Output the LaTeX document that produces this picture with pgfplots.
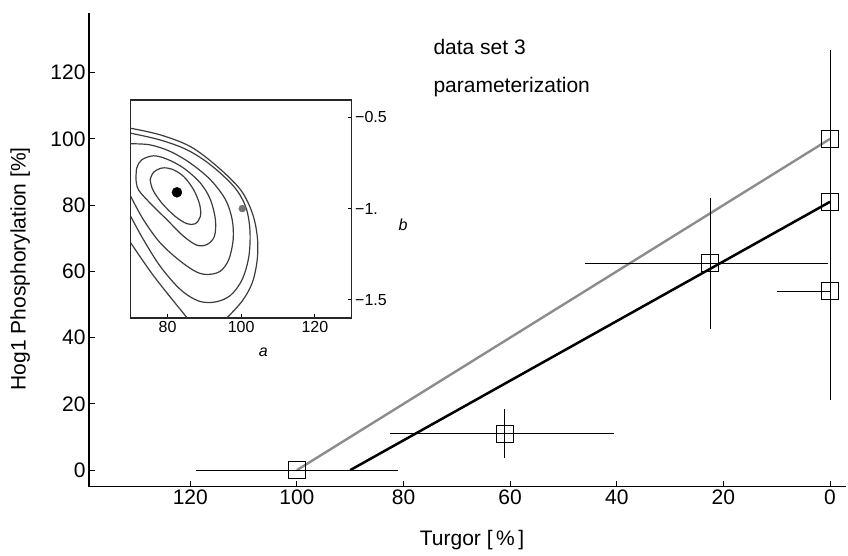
\documentclass[border=0pt]{standalone}
\usepackage{fontspec}
\setmainfont{Liberation Sans}
\usepackage{pgfplots}
\pgfplotsset{compat=1.18}
\definecolor{linegray}{RGB}{140,140,140}
\definecolor{contourgray}{RGB}{60,60,60}
\begin{document}
\begin{tikzpicture}
\useasboundingbox (0,0) rectangle (848bp,556bp);
% main plot
\begin{axis}[
    at={(89bp,69.3bp)}, anchor=south west,
    scale only axis, width=757bp, height=473.7bp,
    x dir=reverse,
    xmin=-3, xmax=139, ymin=-5, ymax=138,
    axis x line*=bottom, axis y line*=left,
    axis line style={line width=1.2bp},
    xtick={0,20,...,120}, ytick={0,20,...,120},
    tick align=inside, major tick length=6bp,
    tick style={line width=1bp, black},
    /pgf/number format/assume math mode=true,
    tick label style={font=\fontsize{21bp}{25bp}\selectfont},
    label style={font=\fontsize{21bp}{25bp}\selectfont},
    xlabel={Turgor [\,\%\,]},
    ylabel={Hog1 Phosphorylation [\%]},
    xlabel style={at={(axis description cs:0.506,-0.1125)}, anchor=center},
    ylabel style={at={(axis description cs:-0.091,0.46)}, anchor=center, rotate=0},
    clip=false,
]
% fitted lines
\addplot[linegray, line width=2.4bp] coordinates {(100,0) (0,100)};
\addplot[black, line width=2.5bp] coordinates {(90,0) (0,81)};
% horizontal error bars
\addplot[draw=none, mark=none,
    error bars/.cd, x dir=both, x explicit,
    error bar style={draw=black, line width=1bp},
    error mark options={draw=black, mark size=2.5bp, line width=1bp}]
  table[x=x, y=y, x error plus=ep, x error minus=em] {
x     y     ep    em
100   0     18.5  18.5
61    11    21    20
22.5  62.5  23    21.6
0     54    9.5   0
};
% vertical error bars
\addplot[draw=none, mark=none,
    error bars/.cd, y dir=both, y explicit,
    error bar style={draw=black, line width=1bp},
    error mark options={draw=black, mark size=2.5bp, line width=1bp}]
  table[x=x, y=y, y error plus=ep, y error minus=em] {
x     y     ep    em
61    11    6.7   6.5
22.5  62.5  19    19
0     100   26    26
0     81    10    10
0     54    32    32
};
% data squares
\addplot[black, only marks, mark=square, mark size=8.5bp,
    mark options={line width=1.3bp}] coordinates {
    (100,0) (61,11) (22.5,62.5) (0,100) (0,81) (0,54)
};
\end{axis}
% inset
\begin{axis}[
    at={(130.7bp,238bp)}, anchor=south west,
    scale only axis, width=221bp, height=218bp,
    xmin=70, xmax=130, ymin=-1.6, ymax=-0.405,
    axis background/.style={fill=white},
    axis line style={line width=1.1bp, black!85},
    xtick={80,100,120}, ytick={-1.5,-1,-0.5},
    yticklabels={−1.5,−1.,−0.5},
    xtick pos=bottom, ytick pos=right, yticklabel pos=right,
    tick align=inside, major tick length=4bp,
    tick style={line width=0.9bp, black},
    /pgf/number format/assume math mode=true,
    tick label style={font=\fontsize{16bp}{19bp}\selectfont},
    xlabel={\textit{a}}, ylabel={\textit{b}},
    label style={font=\fontsize{16bp}{19bp}\selectfont},
    xlabel style={at={(axis description cs:0.6,-0.156)}, anchor=center},
    ylabel style={at={(axis description cs:1.232,0.427)}, anchor=center, rotate=-90},
]
\addplot[contourgray, line width=1.2bp, smooth, tension=0.55] coordinates {
    (75.27,-0.842) (76.18,-0.802) (78.45,-0.778) (81.18,-0.784) (84.36,-0.824)
    (87.09,-0.897) (88.73,-0.979) (88.91,-1.043) (87.55,-1.083) (85.27,-1.083)
    (82.09,-1.043) (78.45,-0.970) (76.0,-0.897) (75.27,-0.842)
};
\addplot[contourgray, line width=1.2bp, smooth, tension=0.55] coordinates {
    (71.45,-0.842) (71.64,-0.778) (73.0,-0.733) (76.18,-0.711) (79.82,-0.729)
    (84.36,-0.778) (88.91,-0.860) (91.64,-0.951) (93.0,-1.061) (92.73,-1.152)
    (90.73,-1.197) (88.0,-1.201) (84.36,-1.152) (79.82,-1.061) (75.27,-0.970)
    (72.09,-0.897) (71.45,-0.842)
};
\addplot[contourgray, line width=1.2bp, smooth, tension=0.55] coordinates {
    (70.0,-0.645) (75.27,-0.651) (80.73,-0.687) (86.18,-0.751) (91.64,-0.842)
    (95.73,-0.951) (97.55,-1.061) (97.82,-1.170) (96.64,-1.279) (94.36,-1.343)
    (91.18,-1.361) (88.0,-1.349) (83.45,-1.288) (78.0,-1.188) (73.45,-1.061)
    (70.0,-0.933)
};
\addplot[contourgray, line width=1.2bp, smooth, tension=0.55] coordinates {
    (70.0,-0.587) (78.0,-0.624) (85.27,-0.678) (91.64,-0.760) (98.0,-0.879)
    (101.18,-0.988) (102.36,-1.115) (102.09,-1.261) (100.27,-1.389) (97.09,-1.476)
    (93.0,-1.512) (88.45,-1.507) (83.45,-1.443) (78.0,-1.316) (73.45,-1.170)
    (70.0,-1.043)
};
\addplot[contourgray, line width=1.2bp, smooth, tension=0.55] coordinates {
    (70.0,-0.560) (78.0,-0.596) (86.18,-0.660) (93.45,-0.769) (99.82,-0.897)
    (103.0,-1.024) (104.36,-1.152) (104.36,-1.279) (103.0,-1.407) (100.27,-1.507)
    (96.18,-1.598)
};
\addplot[contourgray, line width=1.2bp, smooth, tension=0.55] coordinates {
    (85.27,-1.598) (79.82,-1.462) (75.27,-1.343) (70.0,-1.188)
};
% optimum points
\addplot[black, only marks, mark=*, mark size=5bp] coordinates {(82.55,-0.911)};
\addplot[black!55, only marks, mark=*, mark size=3.5bp] coordinates {(100.3,-1.0)};
\end{axis}
\node[anchor=base west, font=\fontsize{21bp}{25bp}\selectfont] at (430bp,501bp) {data set 3};
\node[anchor=base west, font=\fontsize{21bp}{25bp}\selectfont] at (430bp,463.4bp) {parameterization};
\end{tikzpicture}
\end{document}
